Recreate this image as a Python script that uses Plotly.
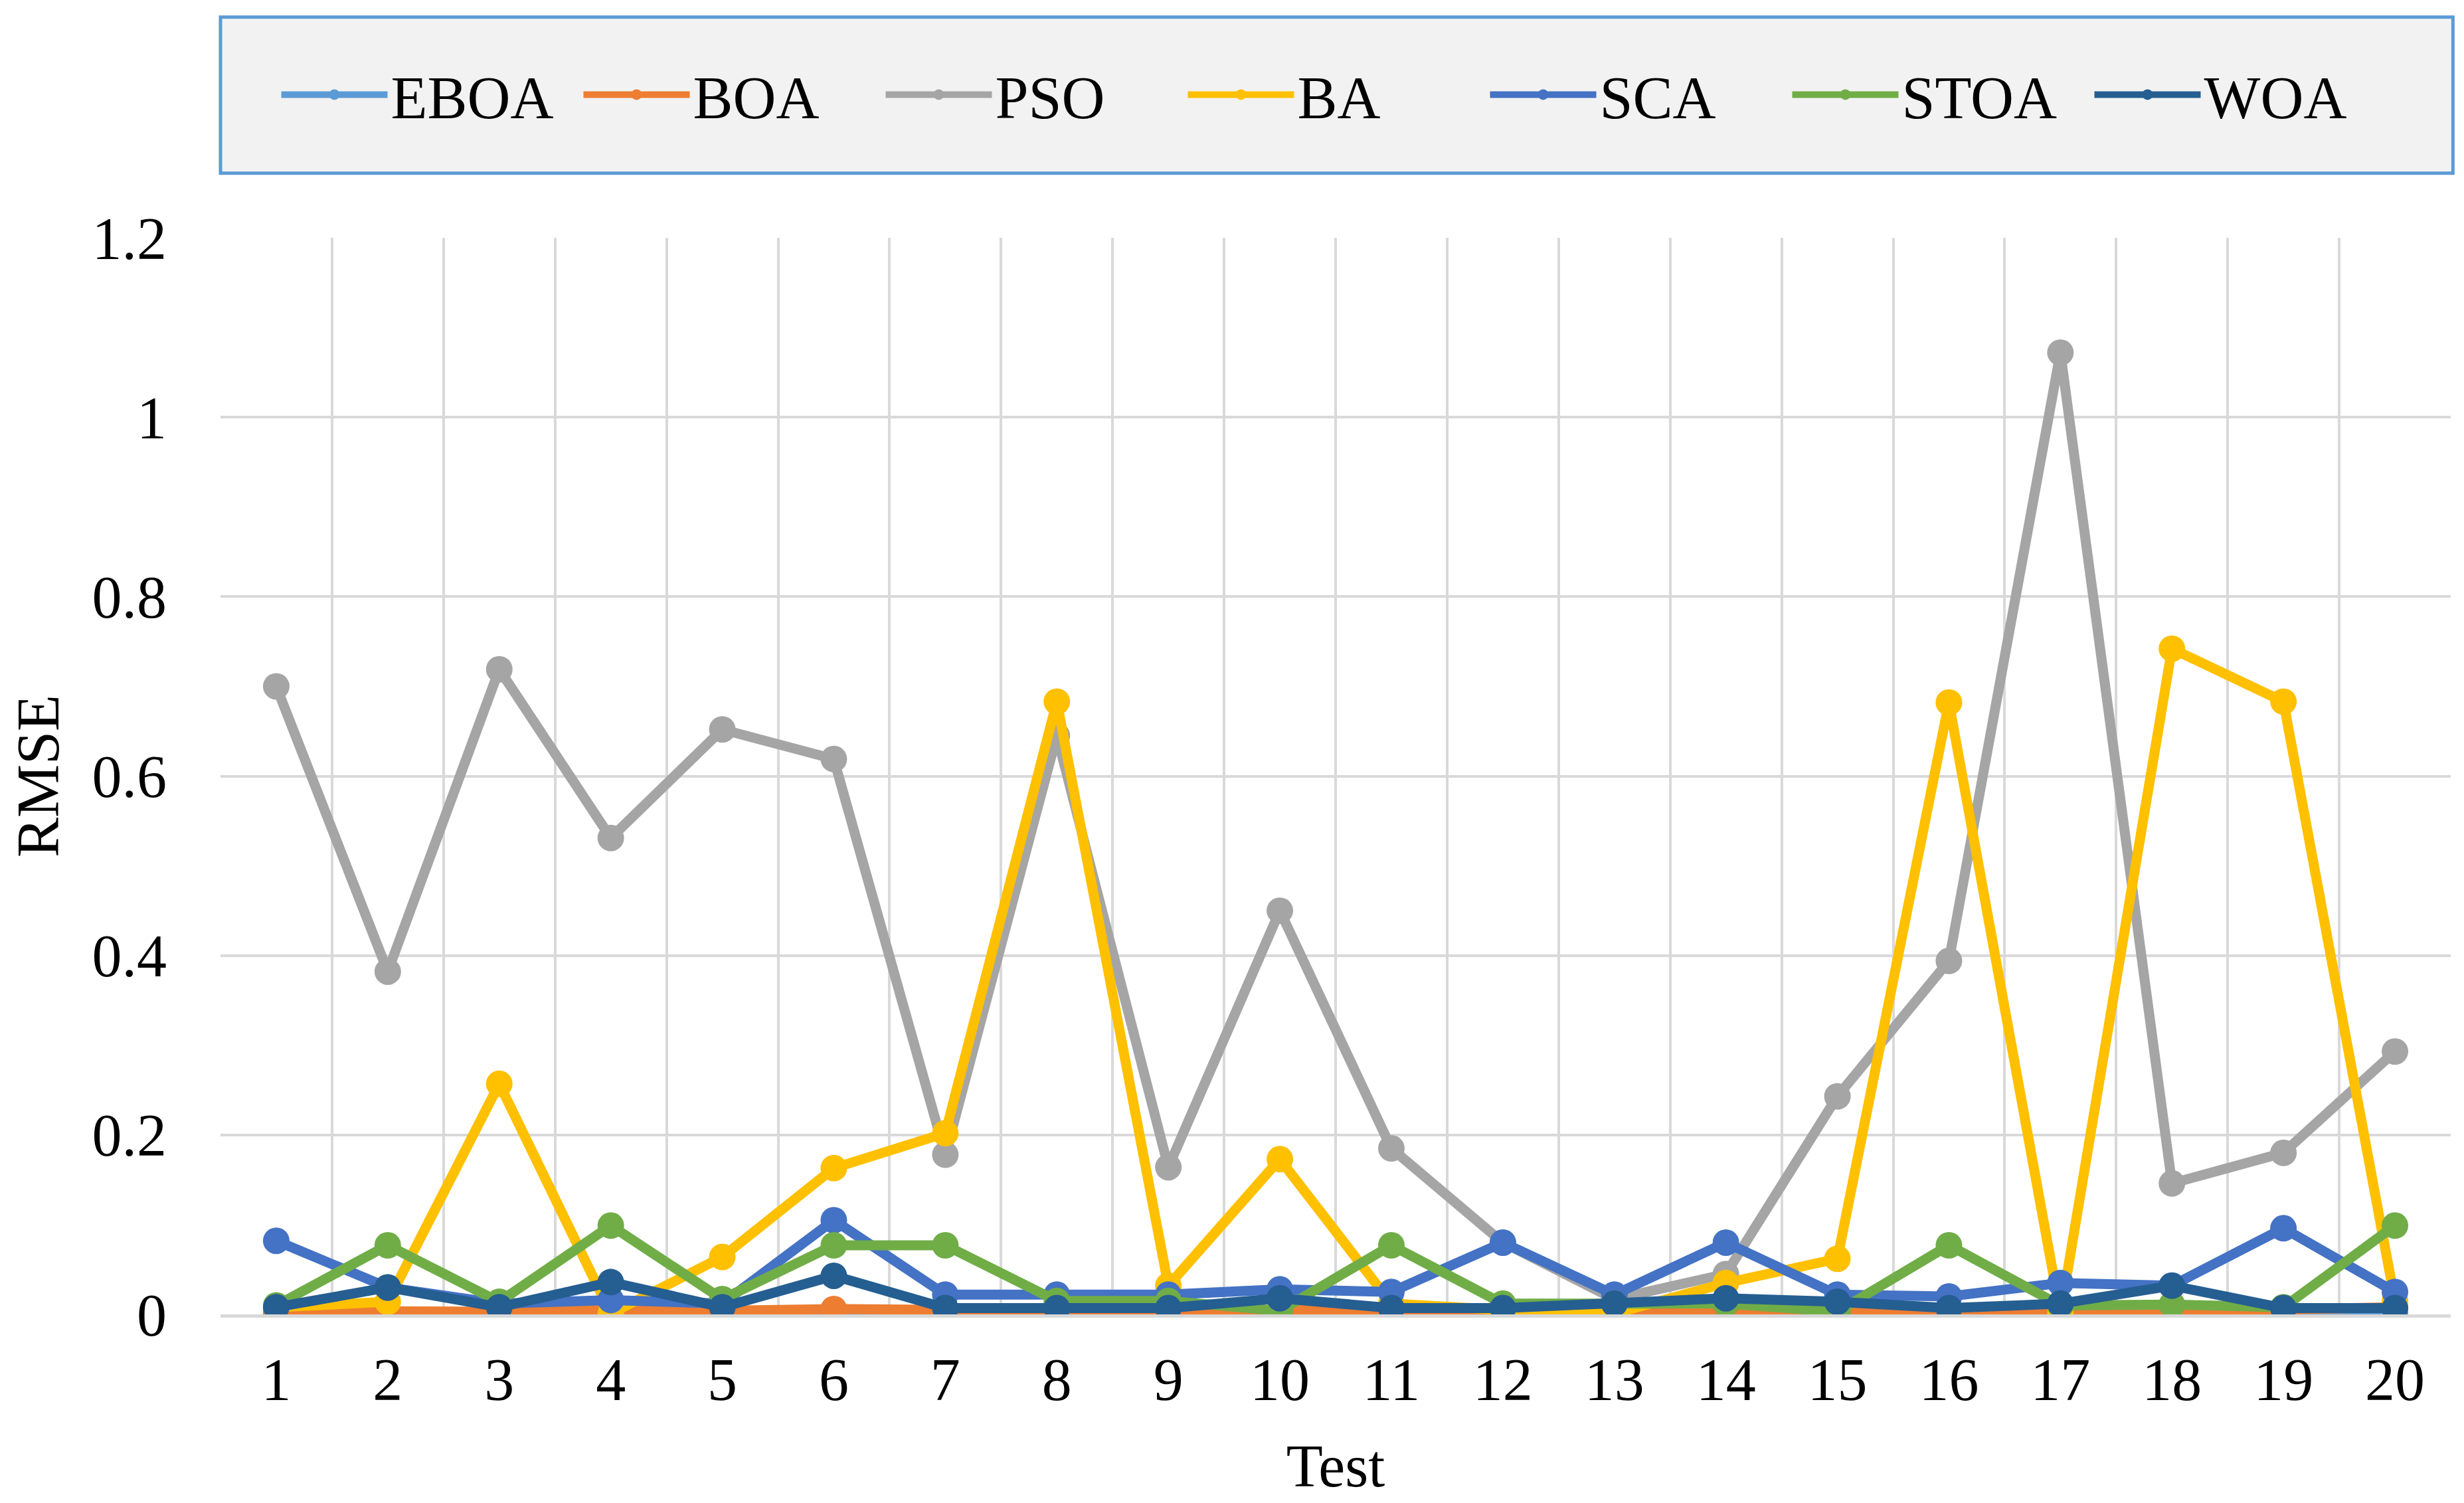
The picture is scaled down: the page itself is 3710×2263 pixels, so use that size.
import plotly.graph_objects as go

tests = list(range(1, 21))

eboa = [0.001, 0.002, 0.001, 0.002, 0.001, 0.002, 0.001, 0.001, 0.002, 0.001,
        0.001, 0.002, 0.001, 0.001, 0.001, 0.002, 0.001, 0.001, 0.001, 0.001]
boa = [0.004, 0.003, 0.003, 0.005, 0.004, 0.006, 0.004, 0.004, 0.003, 0.005,
       0.004, 0.004, 0.004, 0.006, 0.004, 0.004, 0.004, 0.003, 0.006, 0.008]
pso = [0.700, 0.382, 0.719, 0.531, 0.652, 0.619, 0.178, 0.645, 0.164, 0.450,
       0.185, 0.080, 0.017, 0.045, 0.243, 0.394, 1.072, 0.146, 0.180, 0.293]
ba = [0.008, 0.014, 0.257, 0.001, 0.064, 0.163, 0.202, 0.683, 0.032, 0.173,
      0.012, 0.005, 0.001, 0.035, 0.062, 0.682, 0.001, 0.742, 0.683, 0.015]
sca = [0.082, 0.030, 0.012, 0.016, 0.012, 0.105, 0.022, 0.022, 0.022, 0.028,
       0.025, 0.080, 0.022, 0.080, 0.022, 0.020, 0.035, 0.032, 0.096, 0.025]
stoa = [0.010, 0.077, 0.014, 0.099, 0.017, 0.077, 0.077, 0.015, 0.015, 0.004,
        0.077, 0.012, 0.012, 0.012, 0.003, 0.077, 0.010, 0.011, 0.008, 0.099]
woa = [0.008, 0.030, 0.008, 0.036, 0.008, 0.043, 0.007, 0.007, 0.007, 0.018,
       0.007, 0.007, 0.012, 0.018, 0.014, 0.007, 0.012, 0.032, 0.007, 0.007]

series = [
    ("EBOA", eboa, "#5B9BD5"),
    ("BOA", boa, "#ED7D31"),
    ("PSO", pso, "#A5A5A5"),
    ("BA", ba, "#FFC000"),
    ("SCA", sca, "#4472C4"),
    ("STOA", stoa, "#70AD47"),
    ("WOA", woa, "#255E91"),
]

font = "Liberation Serif, Times New Roman, serif"

fig = go.Figure()
for name, vals, col in series:
    fig.add_trace(go.Scatter(
        x=tests, y=vals, name=name, mode="lines+markers",
        line=dict(color=col, width=15),
        marker=dict(color=col, size=40),
    ))

# legend box (Excel style, grey fill with blue border)
fig.add_shape(type="rect", xref="paper", yref="paper",
              x0=0, x1=1.001, y0=1.06, y1=1.205,
              fillcolor="#F2F2F2", line=dict(color="#5B9BD5", width=5),
              layer="below")

fig.update_layout(
    width=3710, height=2263,
    margin=dict(l=324, r=28, t=350, b=292),
    paper_bgcolor="white", plot_bgcolor="white",
    font=dict(family=font, size=90, color="black"),
    legend=dict(orientation="h", x=0.5, xanchor="center", y=1.133, yanchor="middle",
                bgcolor="rgba(0,0,0,0)", entrywidth=280, itemwidth=160,
                font=dict(size=90)),
    showlegend=True,
)

fig.update_xaxes(
    range=[0.5, 20.5], tickvals=tests, ticktext=[str(t) for t in tests],
    showgrid=False, showline=True, linecolor="#D9D9D9", linewidth=5,
    ticks="", ticklabelstandoff=16,
    minor=dict(tick0=0.5, dtick=1, showgrid=True, gridcolor="#D9D9D9", gridwidth=4),
    title=dict(text="Test", standoff=50, font=dict(size=90)),
    zeroline=False,
)
fig.update_yaxes(
    range=[0, 1.2], dtick=0.2, showgrid=True, gridcolor="#D9D9D9", gridwidth=4,
    zeroline=False, showline=False, ticks="", ticklabelstandoff=80,
    title=dict(text="RMSE", standoff=30, font=dict(size=90)),
)

fig.write_html("out.html")
